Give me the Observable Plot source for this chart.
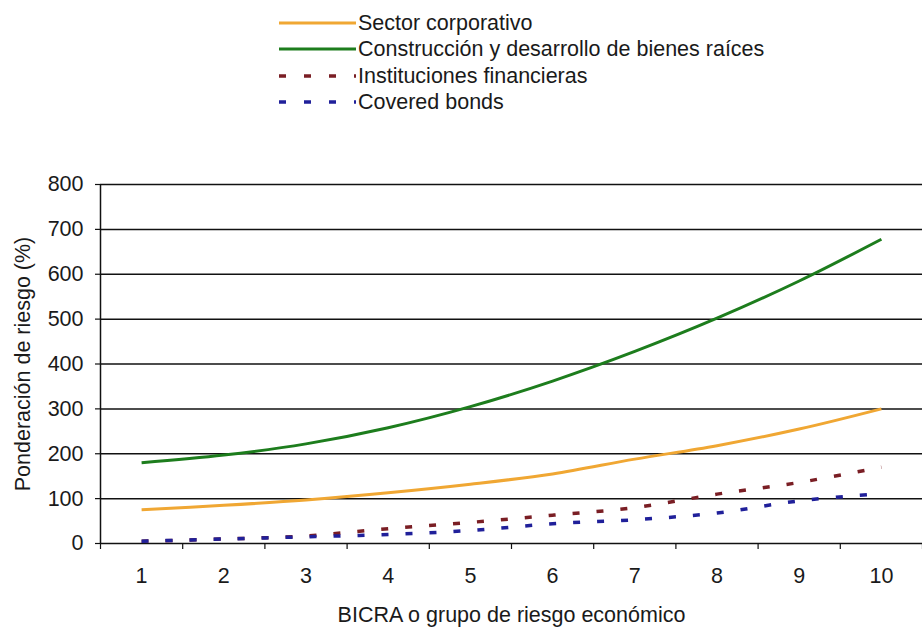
<!DOCTYPE html>
<html>
<head>
<meta charset="utf-8">
<script src="https://cdn.jsdelivr.net/npm/d3@7"></script>
<script src="https://cdn.jsdelivr.net/npm/@observablehq/plot@0.6"></script>
<style>
  html, body { margin: 0; padding: 0; background: #fff; }
  #page { position: relative; width: 922px; height: 629px; overflow: hidden; font-family: "Liberation Sans", Arial, sans-serif; color: #1a1a1a; }
  #legend { position: absolute; left: 279px; top: 10px; }
  .row { display: flex; align-items: center; height: 26.3px; }
  .row svg { display: block; flex: none; }
  .row span { font-size: 21.5px; line-height: 26px; margin-left: 2px; white-space: nowrap; }
  #chart { position: absolute; left: 0; top: 130px; }
</style>
</head>
<body>
<div id="page">
  <div id="legend"></div>
  <div id="chart"></div>
</div>
<script>
// BICRA groups and risk weights (%) by sector
const categories = [1, 2, 3, 4, 5, 6, 7, 8, 9, 10];
const sectorCorporativo = [75, 85, 97, 113, 132, 155, 188, 218, 255, 300];
const construccion = [180, 197, 222, 258, 305, 362, 428, 502, 585, 678];
const institucionesFinancieras = [5, 10, 17, 33, 47, 63, 80, 110, 136, 170];
const coveredBonds = [5, 10, 15, 20, 29, 44, 53, 68, 95, 111];
const yTicks = [0, 100, 200, 300, 400, 500, 600, 700, 800];

const seriesNames = [
  "Sector corporativo",
  "Construcción y desarrollo de bienes raíces",
  "Instituciones financieras",
  "Covered bonds"
];
const seriesValues = [sectorCorporativo, construccion, institucionesFinancieras, coveredBonds];
const seriesStyle = [
  {stroke: "#f0a733", width: 3, dash: null},
  {stroke: "#1d7d1d", width: 3, dash: null},
  {stroke: "#7a1e24", width: 3.5, dash: "7,17"},
  {stroke: "#20209a", width: 3.5, dash: "7,17"}
];

const rows = seriesNames.flatMap((name, i) =>
  categories.map((c, j) => ({serie: name, idx: i, grupo: c, valor: seriesValues[i][j]}))
);

// Legend
const legend = document.getElementById("legend");
seriesNames.forEach((name, i) => {
  const s = seriesStyle[i];
  const row = document.createElement("div");
  row.className = "row";
  row.innerHTML = `<svg width="77" height="10"><line x1="0" x2="77" y1="5" y2="5" stroke="${s.stroke}" stroke-width="${s.dash ? 3.5 : 3}" ${s.dash ? 'stroke-dasharray="7,18"' : ""}/></svg><span>${name}</span>`;
  legend.appendChild(row);
});

// Tick marks between categories on the x axis
const boundaries = [...categories.map(c => c - 0.5), categories[categories.length - 1] + 0.5];

const font = "Liberation Sans, Arial, sans-serif";
const fs = 21.5;
const chart = Plot.plot({
  width: 922,
  height: 499,
  marginLeft: 100,
  marginRight: 0,
  marginTop: 54,
  marginBottom: 86,
  style: {fontFamily: font, fontSize: fs + "px", color: "#1a1a1a", background: "transparent"},
  x: {type: "linear", domain: [0.5, 10.5], axis: null},
  y: {domain: [0, 800], axis: null},
  marks: [
    Plot.ruleY(yTicks, {x1: 0.5, x2: 10.5, stroke: "#111", strokeWidth: 1.5}),
    Plot.ruleX([0.5], {y1: 0, y2: 800, stroke: "#111", strokeWidth: 1.5}),
    Plot.axisY({ticks: yTicks, tickSize: 5, tickPadding: 12, label: null, stroke: "#111", strokeWidth: 1.2, fontSize: fs}),
    Plot.axisX({ticks: boundaries, tickSize: 6, tickFormat: () => "", label: null, stroke: "#111", strokeWidth: 1.2}),
    Plot.axisX({ticks: categories, tickSize: 0, tickPadding: 24, tickFormat: d => String(d), label: null, fontSize: fs}),
    ...seriesNames.map((name, i) =>
      Plot.line(rows.filter(r => r.idx === i), {
        x: "grupo", y: "valor",
        stroke: seriesStyle[i].stroke,
        strokeWidth: seriesStyle[i].width,
        strokeDasharray: seriesStyle[i].dash,
        strokeLinecap: "butt",
        curve: "catmull-rom"
      })
    ),
    Plot.text(["Ponderación de riesgo (%)"], {frameAnchor: "left", dx: -77, rotate: -90, textAnchor: "middle", lineAnchor: "middle", fontSize: fs, fill: "#1a1a1a"}),
    Plot.text(["BICRA o grupo de riesgo económico"], {frameAnchor: "bottom", dy: 72, textAnchor: "middle", lineAnchor: "middle", fontSize: fs, fill: "#1a1a1a"})
  ]
});
document.getElementById("chart").appendChild(chart);
</script>
</body>
</html>
